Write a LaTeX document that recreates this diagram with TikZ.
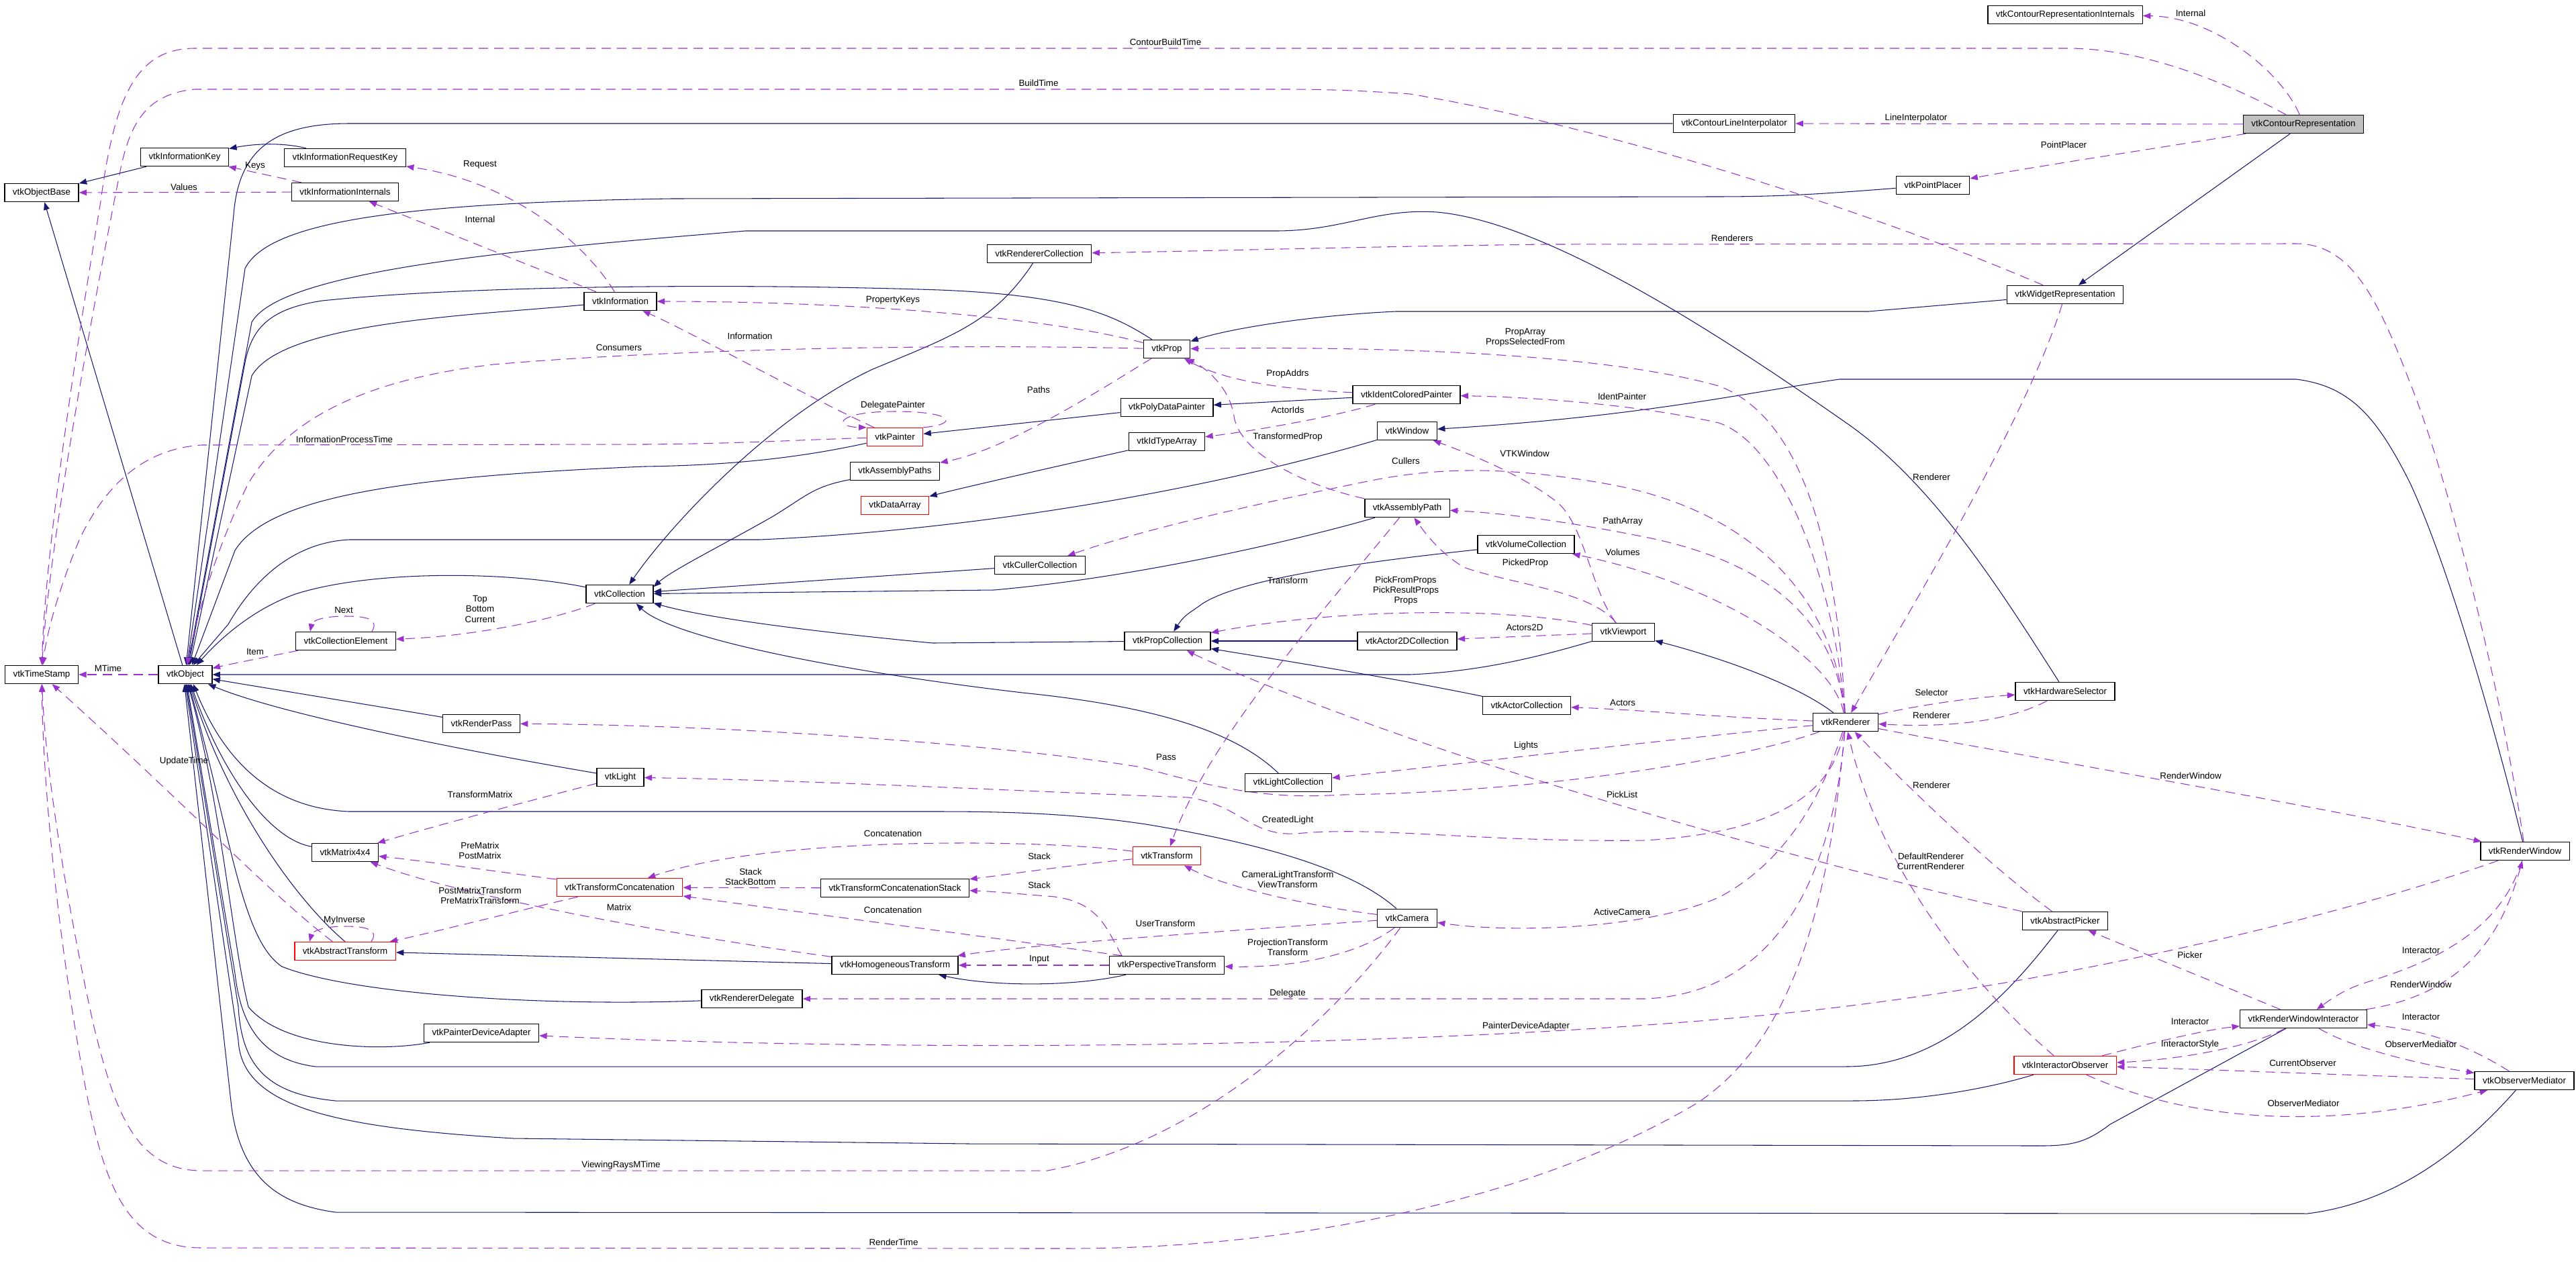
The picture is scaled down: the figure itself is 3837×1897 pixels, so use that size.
\documentclass[tikz,border=0pt]{standalone}
\usepackage{fontspec}
\setmainfont{Liberation Sans}
\usetikzlibrary{arrows.meta,backgrounds}
\definecolor{inkblue}{HTML}{191970}
\definecolor{orchid}{HTML}{9A32CD}
\definecolor{boxgray}{HTML}{BFBFBF}

\begin{document}
\begin{tikzpicture}[x=0.2mm,y=0.2mm,
  every node/.style={font=\fontsize{7.6}{8.8}\selectfont},
  cls/.style={draw=black,fill=white,line width=0.8pt,inner xsep=2.4mm,inner ysep=0pt,minimum height=5.4mm},
  clsred/.style={cls,draw=red},
  clsmain/.style={cls,fill=boxgray},
  lbl/.style={align=center,inner sep=0pt},
  inh/.style={inkblue,line width=0.6pt,-{Triangle[length=6.5pt,width=5pt]}},
  mem/.style={orchid,line width=0.6pt,dash pattern=on 8pt off 5pt,-{Triangle[length=6.5pt,width=5pt]}}]
  \useasboundingbox (0,0) rectangle (3837,-1897);
  \node[cls] (cri) at (3076,-22) {vtkContourRepresentationInternals};
  \node[clsmain] (crep) at (3431,-185) {vtkContourRepresentation};
  \node[cls] (cli) at (2583,-184) {vtkContourLineInterpolator};
  \node[cls] (pp) at (2879,-276) {vtkPointPlacer};
  \node[cls] (ikey) at (275,-234) {vtkInformationKey};
  \node[cls] (ireq) at (514,-235) {vtkInformationRequestKey};
  \node[cls] (objb) at (62,-287) {vtkObjectBase};
  \node[cls] (iint) at (514,-286) {vtkInformationInternals};
  \node[cls] (rcol) at (1548,-378) {vtkRendererCollection};
  \node[cls] (wrep) at (3076,-439) {vtkWidgetRepresentation};
  \node[cls] (info) at (924,-449) {vtkInformation};
  \node[cls] (prop) at (1738,-520) {vtkProp};
  \node[cls] (icp) at (2095,-588) {vtkIdentColoredPainter};
  \node[cls] (pdp) at (1738,-607) {vtkPolyDataPainter};
  \node[cls] (win) at (2096,-642) {vtkWindow};
  \node[clsred] (pnt) at (1333,-651) {vtkPainter};
  \node[cls] (ita) at (1738,-658) {vtkIdTypeArray};
  \node[cls] (apaths) at (1333,-702) {vtkAssemblyPaths};
  \node[clsred] (darr) at (1333,-753) {vtkDataArray};
  \node[cls] (apath) at (2096,-757) {vtkAssemblyPath};
  \node[cls] (vcol) at (2273,-811) {vtkVolumeCollection};
  \node[cls] (ccol) at (1549,-842) {vtkCullerCollection};
  \node[cls] (col) at (923,-885) {vtkCollection};
  \node[cls] (vp) at (2418,-942) {vtkViewport};
  \node[cls] (cel) at (515,-955) {vtkCollectionElement};
  \node[cls] (pcol) at (1739,-955) {vtkPropCollection};
  \node[cls] (a2d) at (2096,-955) {vtkActor2DCollection};
  \node[cls] (ts) at (62,-1005) {vtkTimeStamp};
  \node[cls] (obj) at (276,-1005) {vtkObject};
  \node[cls] (hws) at (3076,-1030) {vtkHardwareSelector};
  \node[cls] (acol) at (2274,-1051) {vtkActorCollection};
  \node[cls] (ren) at (2749,-1076) {vtkRenderer};
  \node[cls] (rpass) at (717,-1078) {vtkRenderPass};
  \node[cls] (light) at (924,-1158) {vtkLight};
  \node[cls] (lcol) at (1919,-1166) {vtkLightCollection};
  \node[cls] (mat) at (514,-1270) {vtkMatrix4x4};
  \node[clsred] (xf) at (1738,-1275) {vtkTransform};
  \node[cls] (rwin) at (3761,-1268) {vtkRenderWindow};
  \node[clsred] (tcat) at (923,-1322) {vtkTransformConcatenation};
  \node[cls] (tcs) at (1333,-1323) {vtkTransformConcatenationStack};
  \node[cls] (cam) at (2096,-1368) {vtkCamera};
  \node[cls] (apick) at (3076,-1372) {vtkAbstractPicker};
  \node[clsred] (axf) at (514,-1417) {vtkAbstractTransform};
  \node[cls] (hxf) at (1333,-1438) {vtkHomogeneousTransform};
  \node[cls] (pxf) at (1738,-1438) {vtkPerspectiveTransform};
  \node[cls] (rdel) at (1120,-1488) {vtkRendererDelegate};
  \node[cls] (rwi) at (3431,-1518) {vtkRenderWindowInteractor};
  \node[cls] (pda) at (717,-1539) {vtkPainterDeviceAdapter};
  \node[clsred] (iobs) at (3076,-1587) {vtkInteractorObserver};
  \node[cls] (omed) at (3760,-1610) {vtkObserverMediator};
  \begin{scope}[on background layer]
  \fill[white] (0,0) rectangle (3837,-1897);
  \draw[inh] (ikey) -- (objb);
  \draw[inh] (ireq) .. controls (420,-212) and (380,-214) .. (ikey);
  \draw[inh] (obj) -- (objb);
  \draw[inh] (cli) -- (520,-184) .. controls (400,-184) and (355,-230) .. (348,-320) -- (obj.85);
  \draw[inh] (pp) .. controls (2700,-290) and (2650,-293) .. (2550,-293) -- (1000,-296) .. controls (600,-302) and (400,-330) .. (365,-400) -- (obj.80);
  \draw[inh] (hws) .. controls (2980,-880) and (2880,-720) .. (2750,-630) .. controls (2550,-490) and (2300,-330) .. (2140,-316) .. controls (2050,-310) and (2000,-344) .. (1900,-344) -- (1110,-344) .. controls (800,-370) and (420,-400) .. (375,-480) -- (obj.75);
  \draw[inh] (prop) .. controls (1660,-470) and (1600,-440) .. (1400,-432) .. controls (1100,-422) and (700,-425) .. (480,-448) .. controls (400,-460) and (375,-490) .. (365,-540) -- (obj.70);
  \draw[inh] (info) .. controls (700,-470) and (420,-480) .. (375,-560) -- (obj.65);
  \draw[inh] (pnt) .. controls (1200,-680) and (1100,-693) .. (960,-695) .. controls (600,-710) and (400,-740) .. (350,-820) -- (obj.55);
  \draw[inh] (win) .. controls (1800,-730) and (1450,-790) .. (1131,-804) -- (520,-804) .. controls (440,-808) and (380,-860) .. (340,-930) -- (obj.50);
  \draw[inh] (col) .. controls (750,-850) and (550,-850) .. (440,-885) .. controls (370,-910) and (320,-960) .. (obj.40);
  \draw[inh] (vp) .. controls (2320,-970) and (2220,-1000) .. (2100,-1005) -- (obj);
  \draw[inh] (rpass) -- (obj);
  \draw[inh] (light) .. controls (700,-1120) and (420,-1065) .. (obj);
  \draw[inh] (cam) .. controls (2020,-1300) and (1900,-1260) .. (1707,-1228) .. controls (1600,-1212) and (1500,-1209) .. (1400,-1209) -- (520,-1209) .. controls (420,-1205) and (340,-1150) .. (obj.-50);
  \draw[inh] (mat) .. controls (400,-1250) and (330,-1150) .. (obj.-60);
  \draw[inh] (axf.north) .. controls (440,-1340) and (340,-1200) .. (obj.-65);
  \draw[inh] (rdel) .. controls (800,-1500) and (520,-1480) .. (420,-1440) .. controls (360,-1400) and (345,-1250) .. (obj.-70);
  \draw[inh] (pda) .. controls (560,-1568) and (420,-1560) .. (370,-1500) .. controls (345,-1400) and (330,-1200) .. (obj.-75);
  \draw[inh] (apick) .. controls (3000,-1470) and (2900,-1589) .. (2750,-1589) -- (470,-1589) .. controls (400,-1580) and (360,-1540) .. (350,-1450) -- (obj.-80);
  \draw[inh] (iobs) .. controls (2950,-1625) and (2850,-1640) .. (2760,-1640) -- (500,-1640) .. controls (400,-1630) and (360,-1590) .. (355,-1500) -- (obj.-85);
  \draw[inh] (rwi) -- (3143,-1675) .. controls (3110,-1700) and (3090,-1707) .. (3040,-1707) -- (1444,-1704) -- (765,-1696) .. controls (500,-1680) and (360,-1650) .. (355,-1550) -- (obj.-90);
  \draw[inh] (omed) .. controls (3680,-1700) and (3580,-1790) .. (3437,-1808) -- (500,-1806) .. controls (420,-1795) and (360,-1760) .. (345,-1650) -- (obj.-95);
  \draw[inh] (lcol) .. controls (1850,-1100) and (1750,-1055) .. (1523,-1032) .. controls (1250,-1000) and (1000,-950) .. (col.-30);
  \draw[inh] (pcol) -- (1389,-958) .. controls (1200,-940) and (1050,-920) .. (col.-15);
  \draw[inh] (ccol) -- (col);
  \draw[inh] (apath) .. controls (1950,-800) and (1700,-860) .. (1480,-879) -- (col);
  \draw[inh] (apaths) .. controls (1210,-725) and (1200,-740) .. (1150,-770) .. controls (1080,-810) and (1000,-850) .. (col.12);
  \draw[inh] (rcol) .. controls (1480,-480) and (1420,-500) .. (1300,-550) .. controls (1150,-620) and (1000,-780) .. (col.45);
  \draw[inh] (a2d) -- (pcol);
  \draw[inh] (vcol) .. controls (2050,-835) and (1850,-860) .. (1790,-900) .. controls (1770,-915) and (1765,-915) .. (pcol);
  \draw[inh] (acol) .. controls (2100,-1015) and (1950,-990) .. (pcol.-10);
  \draw[inh] (ita) .. controls (1550,-700) and (1420,-730) .. (darr);
  \draw[inh] (pdp) -- (pnt);
  \draw[inh] (icp) -- (pdp);
  \draw[inh] (wrep) -- (2783,-464) -- (2079,-464) .. controls (1950,-470) and (1830,-490) .. (prop);
  \draw[inh] (crep) -- (wrep);
  \draw[inh] (ren) .. controls (2690,-1030) and (2600,-990) .. (vp);
  \draw[inh] (hxf) -- (axf);
  \draw[inh] (pxf) .. controls (1600,-1470) and (1480,-1470) .. (hxf);
  \draw[inh] (rwin) .. controls (3720,-1100) and (3650,-850) .. (3590,-720) .. controls (3540,-620) and (3500,-575) .. (3420,-565) -- (2740,-565) .. controls (2600,-585) and (2450,-620) .. (win);
  \draw[mem] (crep) .. controls (3400,-110) and (3300,-25) .. (cri);
  \draw[mem] (crep) .. controls (3330,-130) and (3200,-72) .. (3080,-72) -- (290,-72) .. controls (200,-72) and (170,-150) .. (150,-300) .. controls (100,-600) and (66,-850) .. (ts);
  \draw[mem] (wrep) .. controls (2800,-320) and (2400,-190) .. (2100,-140) .. controls (2000,-133) and (1950,-133) .. (1900,-133) -- (290,-133) .. controls (220,-140) and (195,-180) .. (180,-250) .. controls (120,-550) and (70,-850) .. (ts);
  \draw[mem] (crep) -- (cli);
  \draw[mem] (crep) .. controls (3250,-215) and (3050,-245) .. (pp);
  \draw[mem] (rwin) .. controls (3730,-1050) and (3650,-720) .. (3590,-571) .. controls (3540,-440) and (3500,-363) .. (3420,-363) -- (2300,-364) .. controls (2000,-368) and (1800,-374) .. (rcol);
  \draw[mem] (wrep) .. controls (3020,-620) and (2850,-900) .. (ren);
  \draw[mem] (ren) .. controls (2850,-1052) and (2930,-1040) .. (hws);
  \draw[mem] (hws) .. controls (3000,-1070) and (2920,-1085) .. (ren);
  \draw[mem] (ren) .. controls (2950,-1115) and (3450,-1200) .. (rwin);
  \draw[mem] (apick) .. controls (2950,-1280) and (2820,-1150) .. (ren);
  \draw[mem] (iobs) .. controls (2950,-1480) and (2800,-1300) .. (ren);
  \draw[mem] (apick) .. controls (2750,-1300) and (2400,-1200) .. (2165,-1122) .. controls (1980,-1060) and (1830,-1000) .. (pcol);
  \draw[mem] (rwi) -- (apick);
  \draw[mem] (rwi) .. controls (3680,-1480) and (3730,-1380) .. (rwin);
  \draw[mem] (rwin) .. controls (3720,-1400) and (3600,-1440) .. (3520,-1465) .. controls (3490,-1475) and (3470,-1490) .. (rwi);
  \draw[mem] (omed) .. controls (3680,-1560) and (3620,-1535) .. (rwi);
  \draw[mem] (rwi) .. controls (3500,-1560) and (3600,-1585) .. (omed);
  \draw[mem] (omed) .. controls (3450,-1600) and (3250,-1592) .. (iobs);
  \draw[mem] (iobs) .. controls (3250,-1665) and (3450,-1690) .. (omed);
  \draw[mem] (iobs) .. controls (3200,-1555) and (3280,-1535) .. (rwi);
  \draw[mem] (rwi) .. controls (3350,-1560) and (3250,-1578) .. (iobs);
  \draw[mem] (rwin) .. controls (3500,-1360) and (3100,-1460) .. (2700,-1505) .. controls (2200,-1560) and (1400,-1570) .. (pda);
  \draw[mem] (ren) .. controls (2710,-1200) and (2650,-1290) .. (2560,-1337) .. controls (2450,-1385) and (2250,-1390) .. (cam);
  \draw[mem] (ren) .. controls (2730,-1300) and (2650,-1480) .. (2450,-1488) -- (rdel);
  \draw[mem] (ren) .. controls (2720,-1400) and (2650,-1560) .. (2530,-1642) .. controls (2300,-1780) and (1950,-1859) .. (1600,-1860) -- (300,-1859) .. controls (180,-1859) and (150,-1750) .. (120,-1580) .. controls (80,-1350) and (64,-1150) .. (ts);
  \draw[mem] (cam) .. controls (2000,-1500) and (1800,-1700) .. (1560,-1744) -- (300,-1744) .. controls (200,-1744) and (170,-1650) .. (140,-1530) .. controls (100,-1350) and (68,-1150) .. (ts);
  \draw[mem] (axf) .. controls (400,-1330) and (300,-1220) .. (ts);
  \draw[mem] (obj) -- (ts);
  \draw[mem] (pnt) .. controls (1200,-655) and (1100,-661) .. (960,-662) -- (300,-663) .. controls (200,-670) and (150,-740) .. (120,-800) .. controls (90,-870) and (70,-940) .. (ts);
  \draw[mem] (prop) .. controls (1400,-512) and (1000,-520) .. (735,-543) .. controls (550,-565) and (430,-620) .. (370,-720) .. controls (320,-820) and (290,-930) .. (obj);
  \draw[mem] (prop) .. controls (1550,-470) and (1250,-449) .. (info);
  \draw[mem] (pnt) .. controls (1200,-590) and (1020,-490) .. (info);
  \draw[mem] (info) .. controls (870,-360) and (760,-270) .. (ireq);
  \draw[mem] (info) .. controls (800,-400) and (650,-340) .. (iint);
  \draw[mem] (iint) -- (ikey);
  \draw[mem] (iint) -- (objb);
  \draw[mem] (pnt.north east) .. controls (1430,-632) and (1420,-613) .. (1333,-613) .. controls (1245,-613) and (1240,-636) .. (pnt.north west);
  \draw[mem] (prop) .. controls (1640,-580) and (1500,-670) .. (apaths);
  \draw[mem] (ren) .. controls (2735,-800) and (2680,-620) .. (2560,-575) .. controls (2400,-530) and (2100,-515) .. (prop);
  \draw[mem] (icp) .. controls (1900,-580) and (1820,-565) .. (prop);
  \draw[mem] (icp) .. controls (1990,-620) and (1880,-640) .. (ita);
  \draw[mem] (ren) .. controls (2730,-850) and (2650,-660) .. (2560,-630) .. controls (2450,-605) and (2300,-592) .. (icp);
  \draw[mem] (apath) .. controls (1930,-720) and (1845,-670) .. (1838,-620) .. controls (1832,-580) and (1800,-550) .. (prop);
  \draw[mem] (apath) .. controls (1980,-900) and (1800,-1100) .. (xf);
  \draw[mem] (vp) .. controls (2370,-880) and (2250,-870) .. (2180,-845) .. controls (2140,-820) and (2120,-790) .. (apath);
  \draw[mem] (ren) .. controls (2730,-900) and (2600,-830) .. (2450,-800) .. controls (2350,-780) and (2250,-765) .. (apath);
  \draw[mem] (ren) .. controls (2730,-980) and (2560,-870) .. (vcol);
  \draw[mem] (ren) .. controls (2730,-880) and (2600,-760) .. (2400,-722) .. controls (2250,-695) and (2150,-695) .. (2042,-716) .. controls (1850,-755) and (1700,-790) .. (ccol);
  \draw[mem] (vp) .. controls (2370,-880) and (2360,-780) .. (2318,-747) .. controls (2270,-710) and (2200,-680) .. (win);
  \draw[mem] (vp) .. controls (2250,-905) and (2000,-905) .. (pcol);
  \draw[mem] (vp) -- (a2d);
  \draw[mem] (ren) .. controls (2550,-1068) and (2450,-1058) .. (acol);
  \draw[mem] (ren) .. controls (2500,-1100) and (2200,-1135) .. (lcol);
  \draw[mem] (ren) .. controls (2600,-1130) and (2300,-1180) .. (2000,-1184) .. controls (1900,-1190) and (1830,-1180) .. (1700,-1143) .. controls (1500,-1110) and (1100,-1080) .. (rpass);
  \draw[mem] (ren) .. controls (2730,-1180) and (2650,-1240) .. (2450,-1252) .. controls (2200,-1255) and (2050,-1230) .. (1930,-1242) .. controls (1860,-1245) and (1850,-1200) .. (1770,-1188) .. controls (1550,-1180) and (1200,-1162) .. (light);
  \draw[mem] (light) .. controls (800,-1190) and (650,-1230) .. (mat);
  \draw[mem] (tcat) .. controls (750,-1300) and (650,-1285) .. (mat);
  \draw[mem] (tcat) .. controls (800,-1350) and (650,-1388) .. (axf);
  \draw[mem] (hxf) .. controls (1050,-1400) and (700,-1340) .. (mat);
  \draw[mem] (axf.20) .. controls (565,-1385) and (545,-1380) .. (514,-1380) .. controls (480,-1380) and (465,-1388) .. (axf.165);
  \draw[mem] (cel.20) .. controls (565,-922) and (545,-918) .. (515,-918) .. controls (480,-918) and (465,-925) .. (cel.165);
  \draw[mem] (col) .. controls (820,-925) and (700,-948) .. (cel);
  \draw[mem] (cel) .. controls (400,-978) and (340,-990) .. (obj);
  \draw[mem] (xf) .. controls (1550,-1250) and (1150,-1245) .. (tcat);
  \draw[mem] (xf) .. controls (1600,-1288) and (1500,-1303) .. (tcs);
  \draw[mem] (tcs) -- (tcat);
  \draw[mem] (pxf.168) .. controls (1650,-1390) and (1640,-1340) .. (1560,-1335) .. controls (1520,-1332) and (1480,-1328) .. (tcs);
  \draw[mem] (pxf.168) .. controls (1500,-1400) and (1200,-1360) .. (tcat);
  \draw[mem] (pxf) -- (hxf);
  \draw[mem] (cam) .. controls (1950,-1350) and (1820,-1320) .. (xf);
  \draw[mem] (cam) .. controls (1900,-1382) and (1550,-1405) .. (hxf);
  \draw[mem] (cam) .. controls (2020,-1425) and (1920,-1442) .. (pxf);
  \end{scope}
  \node[lbl] (lint1) at (3263,-20) {Internal};
  \node[lbl] (lcbt) at (1736,-63) {ContourBuildTime};
  \node[lbl] (lbt) at (1547,-124) {BuildTime};
  \node[lbl] (llint) at (2854,-176) {LineInterpolator};
  \node[lbl] (lpp) at (3074,-216) {PointPlacer};
  \node[lbl] (lkeys) at (380,-247) {Keys};
  \node[lbl] (lval) at (274,-279) {Values};
  \node[lbl] (lreq) at (715,-245) {Request};
  \node[lbl] (lint2) at (715,-327) {Internal};
  \node[lbl] (lrens) at (2580,-355) {Renderers};
  \node[lbl] (lpkeys) at (1330,-447) {PropertyKeys};
  \node[lbl] (linfo) at (1117,-501) {Information};
  \node[lbl] (lparr) at (2272,-503) {PropArray\\PropsSelectedFrom};
  \node[lbl] (lcons) at (922,-518) {Consumers};
  \node[lbl] (lpaddr) at (1918,-557) {PropAddrs};
  \node[lbl] (lpaths) at (1547,-581) {Paths};
  \node[lbl] (lident) at (2416,-591) {IdentPainter};
  \node[lbl] (ldel) at (1330,-604) {DelegatePainter};
  \node[lbl] (lids) at (1918,-611) {ActorIds};
  \node[lbl] (ltprop) at (1918,-651) {TransformedProp};
  \node[lbl] (lipt) at (513,-655) {InformationProcessTime};
  \node[lbl] (lvtkw) at (2271,-676) {VTKWindow};
  \node[lbl] (lcull) at (2094,-687) {Cullers};
  \node[lbl] (lren1) at (2877,-711) {Renderer};
  \node[lbl] (lpath) at (2417,-777) {PathArray};
  \node[lbl] (lvol) at (2417,-823) {Volumes};
  \node[lbl] (lpick) at (2272,-839) {PickedProp};
  \node[lbl] (lxf) at (1918,-865) {Transform};
  \node[lbl] (lprops) at (2094,-880) {PickFromProps\\PickResultProps\\Props};
  \node[lbl] (ltop) at (715,-907) {Top\\Bottom\\Current};
  \node[lbl] (lnext) at (512,-909) {Next};
  \node[lbl] (la2d) at (2271,-935) {Actors2D};
  \node[lbl] (litem) at (380,-971) {Item};
  \node[lbl] (lmt) at (161,-996) {MTime};
  \node[lbl] (lsel) at (2877,-1032) {Selector};
  \node[lbl] (lact) at (2417,-1047) {Actors};
  \node[lbl] (lren2) at (2877,-1066) {Renderer};
  \node[lbl] (llights) at (2273,-1111) {Lights};
  \node[lbl] (lpass) at (1737,-1128) {Pass};
  \node[lbl] (lupd) at (274,-1134) {UpdateTime};
  \node[lbl] (lrw1) at (3263,-1156) {RenderWindow};
  \node[lbl] (lren3) at (2877,-1170) {Renderer};
  \node[lbl] (lplist) at (2416,-1184) {PickList};
  \node[lbl] (ltm) at (715,-1184) {TransformMatrix};
  \node[lbl] (lcl) at (1918,-1222) {CreatedLight};
  \node[lbl] (lcat1) at (1330,-1242) {Concatenation};
  \node[lbl] (lprem) at (715,-1267) {PreMatrix\\PostMatrix};
  \node[lbl] (lst1) at (1548,-1276) {Stack};
  \node[lbl] (ldef) at (2876,-1283) {DefaultRenderer\\CurrentRenderer};
  \node[lbl] (lstb) at (1118,-1306) {Stack\\StackBottom};
  \node[lbl] (lclt) at (1918,-1310) {CameraLightTransform\\ViewTransform};
  \node[lbl] (lst2) at (1548,-1319) {Stack};
  \node[lbl] (lpmt) at (715,-1334) {PostMatrixTransform\\PreMatrixTransform};
  \node[lbl] (lmat) at (922,-1352) {Matrix};
  \node[lbl] (lcat2) at (1330,-1356) {Concatenation};
  \node[lbl] (lcam) at (2416,-1359) {ActiveCamera};
  \node[lbl] (linv) at (513,-1371) {MyInverse};
  \node[lbl] (luxf) at (1736,-1376) {UserTransform};
  \node[lbl] (lpxf) at (1918,-1411) {ProjectionTransform\\Transform};
  \node[lbl] (liact1) at (3606,-1416) {Interactor};
  \node[lbl] (lpicker) at (3262,-1423) {Picker};
  \node[lbl] (linput) at (1548,-1429) {Input};
  \node[lbl] (lrw2) at (3606,-1467) {RenderWindow};
  \node[lbl] (ldlg) at (1918,-1480) {Delegate};
  \node[lbl] (liact2) at (3606,-1515) {Interactor};
  \node[lbl] (liact3) at (3262,-1522) {Interactor};
  \node[lbl] (lpda) at (2273,-1529) {PainterDeviceAdapter};
  \node[lbl] (lstyle) at (3262,-1556) {InteractorStyle};
  \node[lbl] (lom1) at (3606,-1556) {ObserverMediator};
  \node[lbl] (lcobs) at (3430,-1584) {CurrentObserver};
  \node[lbl] (lom2) at (3431,-1644) {ObserverMediator};
  \node[lbl] (lvrt) at (925,-1736) {ViewingRaysMTime};
  \node[lbl] (lrt) at (1331,-1851) {RenderTime};
\end{tikzpicture}
\end{document}
